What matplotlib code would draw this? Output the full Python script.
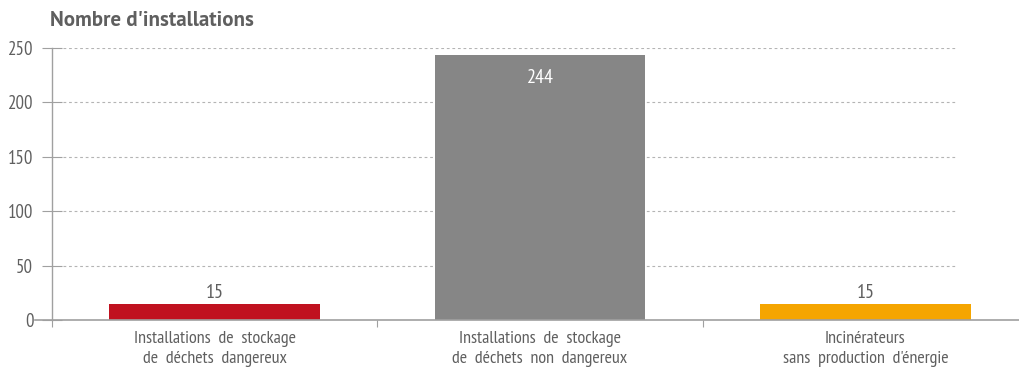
import matplotlib
matplotlib.use('Agg')
import matplotlib.pyplot as plt
from matplotlib.lines import Line2D

# data
categories = ['Installations  de  stockage\nde  déchets  dangereux',
              'Installations  de  stockage\nde  déchets  non  dangereux',
              'Incinérateurs\nsans  production  d\'énergie']
values = [15, 244, 15]
colors = ['#C0111F', '#868686', '#F5A500']
yticks = [0, 50, 100, 150, 200, 250]

plt.rcParams['font.family'] = ['PT Sans Narrow', 'DejaVu Sans']
txt = '#5f5f5f'
axc = '#a0a0a0'

fig = plt.figure(figsize=(10.19, 3.69), dpi=100)
W, H = 1019, 369
ax = fig.add_axes([52 / W, 49 / H, 976 / W, 272 / H])

x = list(range(len(values)))
ax.bar(x, values, width=0.647, color=colors, zorder=3)
ax.set_xlim(-0.5, 2.5)
ax.set_ylim(0, 250)

# dashed grid lines
for yv in yticks[1:]:
    ax.axhline(yv, xmin=11 / 976, xmax=903 / 976, color='#b4b4b4',
               lw=0.8, ls=(0, (2.5, 2.5)), zorder=1)

for s in ['top', 'right', 'bottom']:
    ax.spines[s].set_visible(False)
ax.spines['left'].set_color(axc)
ax.spines['left'].set_linewidth(1.0)
ax.spines['left'].set_bounds(0, 250)

# x axis line extending a bit left of the y axis
fig.add_artist(Line2D([35 / W, 1.0], [49 / H, 49 / H], color=axc, lw=1.2,
                      transform=fig.transFigure))

ax.set_yticks(yticks)
ax.set_yticklabels([str(v) for v in yticks], fontsize=13.5, color=txt)
ax.tick_params(axis='y', direction='inout', length=15, width=0.8,
               color=axc, pad=6)

ax.set_xticks(x)
ax.set_xticklabels(categories, fontsize=13, color=txt, linespacing=1.3)
ax.tick_params(axis='x', length=0, pad=8)
ax.set_xticks([-0.5, 0.5, 1.5], minor=True)
ax.tick_params(axis='x', which='minor', direction='out', length=5,
               width=0.8, color=axc)

# value labels
for xi, v in zip(x, values):
    if v > 100:
        ax.text(xi, v - 22, str(v), ha='center', va='center',
                color='white', fontsize=14.5)
    else:
        ax.text(xi, v + 2, str(v), ha='center', va='bottom',
                color=txt, fontsize=14.5)

fig.text(50 / W, 1 - 20 / H, "Nombre d'installations", fontsize=15,
         fontweight='bold', color=txt, ha='left', va='center',
         family=['PT Sans', 'PT Sans Narrow', 'DejaVu Sans'])

fig.savefig('out.png', dpi=100)
